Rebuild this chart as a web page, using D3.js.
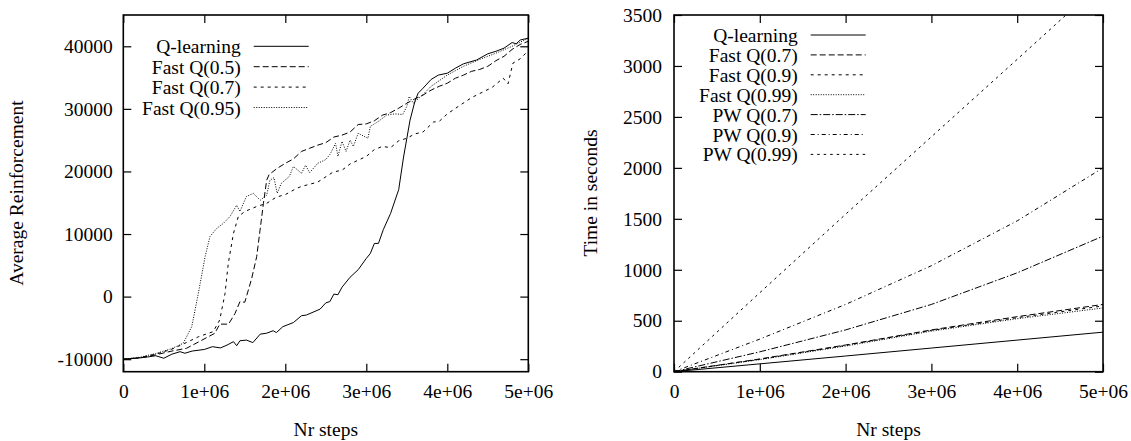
<!DOCTYPE html>
<html>
<head>
<meta charset="utf-8">
<script src="https://cdn.jsdelivr.net/npm/d3@7"></script>
<style>
  body { margin: 0; background: #fff; }
  text { font-family: "Liberation Serif", "Times New Roman", serif; font-size: 19.5px; fill: #000; }
</style>
</head>
<body>
<div id="chart-area"></div>
<script>
// x values are in millions of steps
const xTicks = [0, 1, 2, 3, 4, 5];
const xTickLabels = ["0", "1e+06", "2e+06", "3e+06", "4e+06", "5e+06"];
const leftYTicks = [-10000, 0, 10000, 20000, 30000, 40000];
const rightYTicks = [0, 500, 1000, 1500, 2000, 2500, 3000, 3500];

// left plot: average reinforcement
const leftNames = ["Q-learning", "Fast Q(0.5)", "Fast Q(0.7)", "Fast Q(0.95)"];
const qLearning = [[0,-10000],[0.1,-9900],[0.2,-9800],[0.3,-9650],[0.4,-9450],[0.5,-9850],[0.6,-9200],[0.7,-8800],[0.76,-9050],[0.85,-8700],[1.0,-8450],[1.1,-8000],[1.2,-8200],[1.28,-7750],[1.36,-7200],[1.4,-7850],[1.44,-7050],[1.52,-6950],[1.6,-7350],[1.69,-6000],[1.77,-5850],[1.85,-5450],[1.89,-5750],[1.97,-4800],[2.1,-4150],[2.2,-3050],[2.26,-2950],[2.43,-2000],[2.5,-1000],[2.55,-800],[2.6,400],[2.65,300],[2.7,1500],[2.8,3100],[2.9,4300],[3.0,6100],[3.05,6900],[3.1,8500],[3.15,8500],[3.21,10700],[3.3,13300],[3.4,17100],[3.46,22300],[3.54,28200],[3.6,31200],[3.64,32500],[3.7,33300],[3.8,34700],[3.89,35400],[4.0,35700],[4.1,36500],[4.2,37200],[4.36,37800],[4.5,38800],[4.6,39200],[4.7,39700],[4.8,40600],[4.85,40400],[4.9,41000],[5.0,41300]];
const fastQ05 = [[0,-10000],[0.2,-9800],[0.4,-9300],[0.6,-8700],[0.78,-8260],[0.95,-7100],[1.13,-5860],[1.19,-4400],[1.3,-4400],[1.38,-2670],[1.44,-800],[1.5,-900],[1.585,2900],[1.647,6400],[1.688,10600],[1.73,14900],[1.77,18600],[1.8,19500],[1.9,20500],[2.0,21300],[2.1,22000],[2.2,23200],[2.3,23700],[2.4,24200],[2.5,24600],[2.6,25500],[2.7,25800],[2.8,26300],[2.9,27500],[3.0,27600],[3.1,28100],[3.2,29000],[3.3,29400],[3.4,30100],[3.5,30900],[3.6,31600],[3.7,32200],[3.8,33000],[3.9,33600],[4.0,34100],[4.1,34900],[4.2,35400],[4.3,36000],[4.4,36300],[4.5,36800],[4.6,37700],[4.7,38400],[4.8,39500],[4.9,40300],[5.0,40800]];
const fastQ07 = [[0,-10000],[0.2,-9750],[0.4,-9200],[0.6,-8400],[0.76,-7460],[0.93,-6400],[1.11,-5600],[1.19,-3740],[1.256,500],[1.296,5300],[1.36,10100],[1.42,12800],[1.5,13600],[1.647,14400],[1.77,14900],[1.89,15900],[2.0,16300],[2.14,17300],[2.2,17600],[2.4,18300],[2.59,19900],[2.7,20200],[2.8,21200],[3.0,22400],[3.1,23500],[3.2,24000],[3.3,23800],[3.4,24900],[3.5,25300],[3.6,26000],[3.7,26300],[3.83,27900],[3.9,28000],[4.0,29200],[4.16,30600],[4.3,31800],[4.44,32700],[4.55,33400],[4.69,34900],[4.75,34000],[4.81,37300],[4.9,38000],[5.0,39300]];
const fastQ095 = [[0,-10000],[0.2,-9700],[0.4,-9100],[0.6,-8300],[0.74,-7460],[0.845,-4800],[0.926,500],[1.01,6400],[1.07,9600],[1.153,10900],[1.235,11700],[1.317,12800],[1.4,14600],[1.44,13600],[1.52,16000],[1.605,16500],[1.69,15400],[1.77,16200],[1.81,18600],[1.86,19000],[1.9,16500],[1.95,18100],[2.05,19200],[2.1,20800],[2.2,19700],[2.25,21000],[2.3,19800],[2.4,21300],[2.5,21900],[2.55,22700],[2.59,23700],[2.62,24500],[2.65,22400],[2.7,24800],[2.75,23200],[2.8,25000],[2.84,24000],[2.9,26100],[3.02,25300],[3.05,27200],[3.15,28000],[3.25,29000],[3.35,29200],[3.45,29100],[3.5,30400],[3.53,32000],[3.58,30900],[3.7,32300],[3.8,33600],[4.0,35400],[4.2,36800],[4.4,37900],[4.6,38900],[4.8,40000],[5.0,41300]];

// right plot: time in seconds
const rightNames = ["Q-learning", "Fast Q(0.7)", "Fast Q(0.9)", "Fast Q(0.99)", "PW Q(0.7)", "PW Q(0.9)", "PW Q(0.99)"];
const tQLearning = [[0,0],[1,77],[2,154],[3,232],[4,310],[5,388]];
const tFastQ07 = [[0,0],[1,125],[2,262],[3,410],[4,540],[5,660]];
const tFastQ09 = [[0,0],[1,122],[2,258],[3,405],[4,530],[5,645]];
const tFastQ099 = [[0,0],[1,118],[2,252],[3,398],[4,520],[5,625]];
const tPwQ07 = [[0,0],[1,195],[2,410],[3,660],[4,970],[5,1330]];
const tPwQ09 = [[0,0],[1,320],[2,660],[3,1040],[4,1480],[5,2000]];
const tPwQ099 = [[0,0],[1,775],[2,1545],[3,2305],[4,3065],[5,3830]];

const leftSeries = [qLearning, fastQ05, fastQ07, fastQ095];
const rightSeries = [tQLearning, tFastQ07, tFastQ09, tFastQ099, tPwQ07, tPwQ09, tPwQ099];
const leftDash = ["none", "6,3", "3,4", "1,1.5"];
const rightDash = ["none", "6,3", "3,4", "1,1.5", "7,2,1.5,2", "4,3,1,3", "2.5,4"];

const svg = d3.select("#chart-area")
  .append("svg")
  .attr("width", 1131)
  .attr("height", 441);

function drawPanel(cfg) {
  let x = d3.scaleLinear().domain([0, 5]).range([cfg.left, cfg.right]);
  let y = d3.scaleLinear().domain(cfg.yDomain).range([371.7, 15]);

  let clipId = "clip-" + cfg.id;
  svg.append("clipPath").attr("id", clipId)
    .append("rect")
    .attr("x", cfg.left).attr("y", 15)
    .attr("width", cfg.right - cfg.left).attr("height", 371.7 - 15);

  // axes with inward ticks, mirrored on top and right
  let xAxis = d3.axisBottom(x).tickValues(xTicks)
    .tickFormat((d, i) => xTickLabels[i])
    .tickSizeInner(-8).tickSizeOuter(0).tickPadding(12);
  let gx = svg.append("g").attr("transform", "translate(0,371.7)").call(xAxis);

  let gxTop = svg.append("g").attr("transform", "translate(0,15)")
    .call(d3.axisTop(x).tickValues(xTicks).tickFormat("").tickSizeInner(-8).tickSizeOuter(0));

  let yAxis = d3.axisLeft(y).tickValues(cfg.yTicks)
    .tickFormat(d => String(d))
    .tickSizeInner(-8).tickSizeOuter(0).tickPadding(cfg.yPad);
  let gy = svg.append("g").attr("transform", `translate(${cfg.left},0)`).call(yAxis);

  let gyRight = svg.append("g").attr("transform", `translate(${cfg.right},0)`)
    .call(d3.axisRight(y).tickValues(cfg.yTicks).tickFormat("").tickSizeInner(-8).tickSizeOuter(0));

  [gx, gxTop, gy, gyRight].forEach(g => {
    g.select(".domain").remove();
    g.selectAll(".tick line").attr("stroke", "#000").attr("stroke-width", 1.2);
    g.selectAll("text").attr("font-family", null).attr("font-size", null);
  });

  // frame
  svg.append("rect")
    .attr("x", cfg.left).attr("y", 15)
    .attr("width", cfg.right - cfg.left).attr("height", 371.7 - 15)
    .attr("fill", "none").attr("stroke", "#000").attr("stroke-width", 1.6);

  let line = d3.line().x(d => x(d[0])).y(d => y(d[1]));

  svg.append("g").attr("clip-path", `url(#${clipId})`)
    .selectAll("path")
    .data(cfg.series)
    .enter().append("path")
    .attr("d", line)
    .attr("fill", "none")
    .attr("stroke", "#000")
    .attr("stroke-width", 1)
    .attr("stroke-dasharray", (d, i) => cfg.dash[i]);

  // legend
  let leg = svg.append("g");
  cfg.names.forEach((name, i) => {
    let ly = cfg.legY + i * cfg.legStep;
    leg.append("text")
      .attr("x", cfg.legTextX).attr("y", ly + 7)
      .attr("text-anchor", "end")
      .text(name);
    leg.append("line")
      .attr("x1", cfg.legTextX + 13).attr("x2", cfg.legTextX + 68)
      .attr("y1", ly).attr("y2", ly)
      .attr("stroke", "#000").attr("stroke-width", 1)
      .attr("stroke-dasharray", cfg.dash[i]);
  });

  // axis labels
  svg.append("text")
    .attr("x", (cfg.left + cfg.right) / 2).attr("y", 436)
    .attr("text-anchor", "middle")
    .text("Nr steps");

  svg.append("text")
    .attr("transform", `translate(${cfg.yLabelX},193) rotate(-90)`)
    .attr("text-anchor", "middle")
    .text(cfg.yLabel);
}

drawPanel({
  id: "left", left: 123.3, right: 528.3,
  yDomain: [-12000, 45000], yTicks: leftYTicks, yPad: 10.5,
  series: leftSeries, dash: leftDash, names: leftNames,
  legTextX: 240.7, legY: 46.3, legStep: 20.4,
  yLabel: "Average Reinforcement", yLabelX: 23
});

drawPanel({
  id: "right", left: 674, right: 1103,
  yDomain: [0, 3500], yTicks: rightYTicks, yPad: 12,
  series: rightSeries, dash: rightDash, names: rightNames,
  legTextX: 797.7, legY: 35, legStep: 19.9,
  yLabel: "Time in seconds", yLabelX: 597
});
</script>
</body>
</html>
